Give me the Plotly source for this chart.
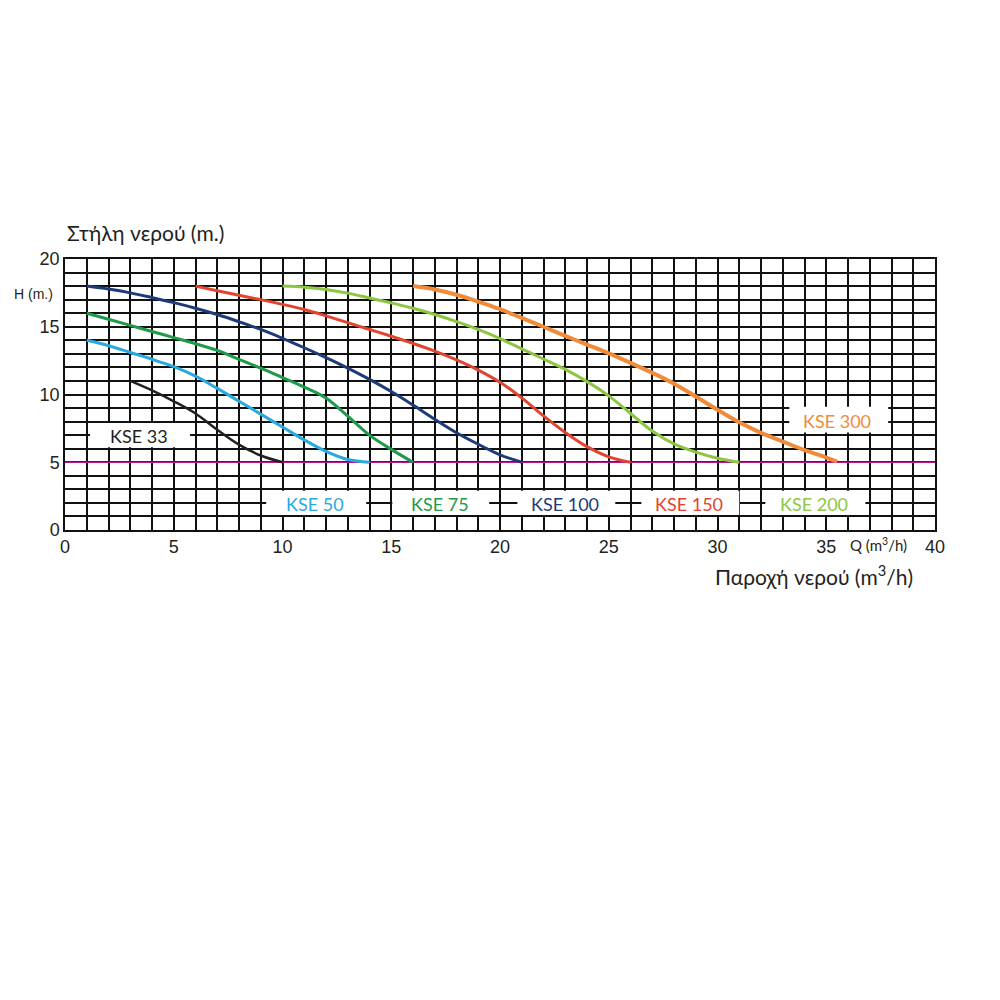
import plotly.graph_objects as go

# ---- data ----
q_33 = [3, 4, 5, 6, 7, 8, 9, 10]
h_33 = [11.0, 10.3, 9.5, 8.6, 7.4, 6.3, 5.5, 5.0]

q_50 = [1, 2, 3, 4, 5, 6, 7, 8, 9, 10, 11, 12, 13, 14]
h_50 = [14.0, 13.6, 13.1, 12.6, 12.05, 11.35, 10.45, 9.5, 8.55, 7.6, 6.65, 5.8, 5.2, 5.0]

q_75 = [1, 2, 3, 4, 5, 6, 7, 8, 9, 10, 11, 12, 13, 14, 15, 16]
h_75 = [16.0, 15.55, 15.1, 14.65, 14.2, 13.75, 13.25, 12.6, 11.95, 11.25, 10.55, 9.75, 8.4, 7.0, 5.95, 5.0]

q_100 = [1, 2, 3, 4, 5, 6, 7, 8, 9, 10, 11, 12, 13, 14, 15, 16, 17, 18, 19, 20, 21]
h_100 = [18.0, 17.78, 17.5, 17.15, 16.78, 16.37, 15.9, 15.37, 14.8, 14.15, 13.45, 12.72,
         11.95, 11.12, 10.22, 9.22, 8.17, 7.18, 6.33, 5.55, 5.0]

q_150 = [6, 7, 8, 9, 10, 11, 12, 13, 14, 15, 16, 17, 18, 19, 20, 21, 22, 23, 24, 25, 26]
h_150 = [18.0, 17.65, 17.32, 17.0, 16.65, 16.27, 15.8, 15.3, 14.8, 14.3, 13.77, 13.2,
         12.55, 11.8, 10.9, 9.75, 8.42, 7.2, 6.15, 5.4, 5.0]

q_200 = [10, 11, 12, 13, 14, 15, 16, 17, 18, 19, 20, 21, 22, 23, 24, 25, 26, 27, 28, 29, 30, 31]
h_200 = [18.0, 17.92, 17.75, 17.48, 17.12, 16.76, 16.36, 15.9, 15.38, 14.8, 14.12, 13.37,
         12.62, 11.85, 10.95, 9.9, 8.6, 7.3, 6.35, 5.75, 5.3, 5.0]

q_300 = [16, 17, 18, 19, 20, 21, 22, 23, 24, 25, 26, 27, 28, 29, 30, 31, 32, 33, 34, 35, 35.5]
h_300 = [18.0, 17.75, 17.36, 16.86, 16.3, 15.65, 15.0, 14.33, 13.68, 13.03, 12.33, 11.6,
         10.8, 9.85, 8.87, 7.95, 7.17, 6.53, 5.9, 5.35, 5.05]

series_names = ["KSE 33", "KSE 50", "KSE 75", "KSE 100", "KSE 150", "KSE 200", "KSE 300"]
series_q = [q_33, q_50, q_75, q_100, q_150, q_200, q_300]
series_h = [h_33, h_50, h_75, h_100, h_150, h_200, h_300]
colors = ["#231f20", "#2aa8e0", "#1e9a4a", "#1d3b78", "#e2452f", "#8dc641", "#f08b3a"]
widths = [2.5, 3, 3, 3, 3, 3, 4]

# label positions (centre of text) and white box extents
label_x = [3.4, 11.5, 17.25, 23.0, 28.7, 34.45, 35.5]
label_y = [6.95, 1.92, 1.92, 1.92, 1.92, 1.92, 8.08]
box_x0 = [1.15, 9.25, 15.05, 20.8, 26.5, 32.2, 33.3]
box_x1 = [5.75, 13.85, 19.5, 25.3, 31.0, 36.8, 37.85]
box_y0 = [6.1, 1.1, 1.1, 1.1, 1.1, 1.1, 7.2]
box_y1 = [7.9, 2.9, 2.9, 2.9, 2.9, 2.9, 9.1]

x_ticks = list(range(0, 41))
y_ticks = list(range(0, 21))
x_text = [str(v) if v % 5 == 0 else "" for v in x_ticks]
y_text = [str(v) if v % 5 == 0 else "" for v in y_ticks]

min_head = 5

fig = go.Figure()

for name, q, h, c, w in zip(series_names, series_q, series_h, colors, widths):
    fig.add_trace(go.Scatter(x=q, y=h, mode="lines", name=name,
                             line=dict(color=c, width=w, shape="spline", smoothing=1.0),
                             hoverinfo="skip", showlegend=False))

shapes = []
# magenta minimum head line
shapes.append(dict(type="line", xref="x", yref="y", x0=0, x1=40, y0=min_head, y1=min_head,
                   line=dict(color="#b5198d", width=1.5), layer="between"))
for x0, x1, y0, y1 in zip(box_x0, box_x1, box_y0, box_y1):
    shapes.append(dict(type="rect", xref="x", yref="y", x0=x0, x1=x1, y0=y0, y1=y1,
                       fillcolor="white", line=dict(width=0), layer="between"))

annotations = []
for name, lx, ly, c in zip(series_names, label_x, label_y, colors):
    annotations.append(dict(x=lx, y=ly, xref="x", yref="y", text=name, showarrow=False,
                            font=dict(family="Lato, Open Sans, sans-serif", size=18, color=c),
                            xanchor="center", yanchor="middle"))

annotations += [
    dict(x=0, y=1, xref="paper", yref="paper", text="Στήλη νερού (m.)", showarrow=False,
         xanchor="left", yanchor="middle", yshift=27,
         font=dict(family="Lato, Open Sans, sans-serif", size=21, color="#231f20")),
    dict(x=0, y=17.4, xref="paper", yref="y", text="H (m.)", showarrow=False,
         xanchor="right", yanchor="middle", xshift=-10,
         font=dict(family="Liberation Sans, Arial, sans-serif", size=14, color="#231f20")),
    dict(x=37.4, y=0, xref="x", yref="paper", text="Q (m<sup>3</sup>/h)", showarrow=False,
         xanchor="center", yanchor="middle", yshift=-14,
         font=dict(family="Lato, Open Sans, sans-serif", size=15, color="#231f20")),
    dict(x=1, y=0, xref="paper", yref="paper", text="Παροχή νερού (m<sup>3</sup>/h)",
         showarrow=False, xanchor="right", yanchor="middle", xshift=-20, yshift=-45,
         font=dict(family="Lato, Open Sans, sans-serif", size=21, color="#231f20")),
]

fig.update_layout(
    width=1000, height=1000,
    margin=dict(l=57, r=73, t=251, b=478),
    paper_bgcolor="white", plot_bgcolor="white",
    shapes=shapes, annotations=annotations,
    showlegend=False,
)
fig.update_xaxes(range=[0, 40], tickvals=x_ticks, ticktext=x_text, showgrid=True,
                 gridcolor="#111111", gridwidth=1.5, showline=True, mirror=True,
                 linecolor="#111111", linewidth=1.5, zeroline=False, ticks="",
                 tickfont=dict(family="Liberation Sans, Arial, sans-serif", size=18, color="#231f20"))
fig.update_yaxes(range=[0, 20], tickvals=y_ticks, ticktext=y_text, showgrid=True,
                 gridcolor="#111111", gridwidth=1.5, showline=True, mirror=True,
                 linecolor="#111111", linewidth=1.5, zeroline=False, ticks="",
                 tickfont=dict(family="Liberation Sans, Arial, sans-serif", size=18, color="#231f20"))

fig.write_html("out.html")
